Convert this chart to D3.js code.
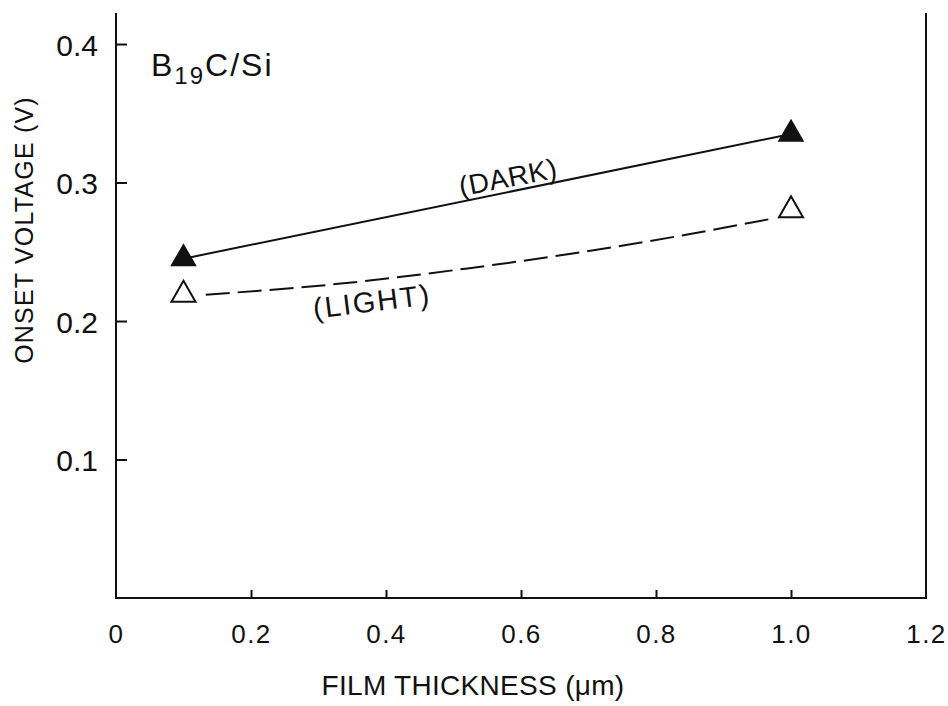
<!DOCTYPE html>
<html>
<head>
<meta charset="utf-8">
<script src="https://cdn.jsdelivr.net/npm/d3@7"></script>
<style>
  html, body { margin: 0; padding: 0; background: #fff; }
  svg { display: block; }
  text { font-family: "Liberation Sans", Arial, sans-serif; fill: #111; }
</style>
</head>
<body>
<svg id="chart" width="948" height="706"></svg>
<script>
// ---- data ----
const thickness = [0.1, 1.0];
const darkOnset = [0.245, 0.335];
const lightOnset = [0.219, 0.280];
// dashed "LIGHT" trend curve
const lightCurveX = [0.133, 0.333, 0.521, 0.758, 0.973];
const lightCurveY = [0.219, 0.227, 0.238, 0.255, 0.274];
const xTicks = [0, 0.2, 0.4, 0.6, 0.8, 1.0, 1.2];
const xTickLabels = ["0", "0.2", "0.4", "0.6", "0.8", "1.0", "1.2"];
const yTicks = [0.1, 0.2, 0.3, 0.4];
const yTickLabels = ["0.1", "0.2", "0.3", "0.4"];

const svg = d3.select("#chart");
const pLeft = 116, pRight = 926, pTop = 13, pBottom = 598;

const x = d3.scaleLinear().domain([0, 1.2]).range([pLeft, pRight]);
const y = d3.scaleLinear().domain([0, 0.4224]).range([pBottom, pTop]);

// frame: left, bottom, right (no top)
const frame = svg.append("g").attr("fill", "none").attr("stroke", "#111").attr("stroke-width", 2);
frame.append("path").attr("d", `M${pLeft},${pTop}V${pBottom}H${pRight}V${pTop}`);

// y axis ticks (inward)
const yAxis = d3.axisLeft(y).tickValues(yTicks).tickSize(-11).tickFormat((d, i) => yTickLabels[i]);
const gy = svg.append("g").attr("transform", `translate(${pLeft},0)`).call(yAxis);
gy.select(".domain").remove();
gy.selectAll(".tick line").attr("stroke", "#111").attr("stroke-width", 2);
gy.selectAll(".tick text").attr("font-size", 30).attr("fill", "#111")
  .attr("font-family", "Liberation Sans, Arial, sans-serif").attr("dy", "0.38em").attr("x", -18);

// x axis ticks (inward)
const xAxis = d3.axisBottom(x).tickValues(xTicks).tickSize(-8).tickFormat((d, i) => xTickLabels[i]);
const gx = svg.append("g").attr("transform", `translate(0,${pBottom})`).call(xAxis);
gx.select(".domain").remove();
gx.selectAll(".tick line").attr("stroke", "#111").attr("stroke-width", 2)
  .style("display", d => (d === 0 || d === 1.2) ? "none" : null);
gx.selectAll(".tick text").attr("font-size", 26).attr("fill", "#111")
  .attr("font-family", "Liberation Sans, Arial, sans-serif").attr("y", 27).attr("dy", "0.71em")
  .attr("letter-spacing", 1.5);

// axis titles
svg.append("text").attr("x", 473).attr("y", 695).attr("text-anchor", "middle")
  .attr("font-size", 28).attr("letter-spacing", 0.3)
  .text("FILM THICKNESS (\u03BCm)");
svg.append("text").attr("transform", "translate(33,230) rotate(-90)").attr("text-anchor", "middle")
  .attr("font-size", 25).attr("letter-spacing", 1.2)
  .text("ONSET VOLTAGE (V)");

// material label
const lab = svg.append("text").attr("x", 151).attr("y", 76).attr("font-size", 32).attr("letter-spacing", 2);
lab.append("tspan").text("B");
lab.append("tspan").attr("font-size", 24).attr("dy", 8).text("19");
lab.append("tspan").attr("dy", -8).text("C/Si");

// dark line (solid)
const darkPts = thickness.map((t, i) => [x(t), y(darkOnset[i])]);
svg.append("path").attr("d", d3.line()(darkPts)).attr("fill", "none")
  .attr("stroke", "#111").attr("stroke-width", 2);

// light curve (dashed)
const lightPts = lightCurveX.map((t, i) => [x(t), y(lightCurveY[i])]);
svg.append("path").attr("d", d3.line().curve(d3.curveMonotoneX)(lightPts)).attr("fill", "none")
  .attr("stroke", "#111").attr("stroke-width", 2).attr("stroke-dasharray", "24,8");

// markers
const tri = d3.symbol(d3.symbolTriangle, 250);
svg.append("g").selectAll("path").data(thickness).join("path")
  .attr("transform", (d, i) => `translate(${x(d)},${y(darkOnset[i])})`)
  .attr("d", tri).attr("fill", "#111").attr("stroke", "#111").attr("stroke-width", 1.5);
svg.append("g").selectAll("path").data(thickness).join("path")
  .attr("transform", (d, i) => `translate(${x(d)},${y(lightOnset[i])})`)
  .attr("d", tri).attr("fill", "#fff").attr("stroke", "#111").attr("stroke-width", 2);

// series labels
svg.append("text").attr("transform", "translate(508,177) rotate(-11)").attr("text-anchor", "middle")
  .attr("dy", "0.36em").attr("font-size", 28).attr("letter-spacing", 0.5).text("(DARK)");
svg.append("text").attr("transform", "translate(372,301) rotate(-7)").attr("text-anchor", "middle")
  .attr("dy", "0.36em").attr("font-size", 29).attr("letter-spacing", 2).text("(LIGHT)");
</script>
</body>
</html>
